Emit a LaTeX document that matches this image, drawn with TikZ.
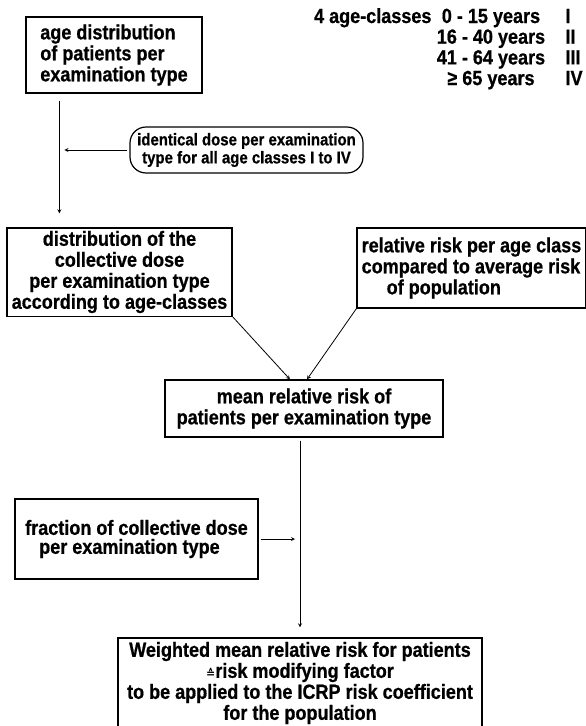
\documentclass[tikz,border=0pt]{standalone}
\usepackage{fontspec}
\setmainfont{Liberation Sans}
\newfontfamily\condsans{Liberation Sans}[FakeStretch=0.88,FakeBold=0.7]
\newfontfamily\symfont{DejaVu Sans}
\begin{document}
\begin{tikzpicture}[>=stealth,x=1pt,y=-1pt,
	box/.style={draw,line width=1.2pt,inner sep=3pt},
	txt/.style={font=\condsans\bfseries\fontsize{20.5}{21}\selectfont},
	small/.style={font=\condsans\bfseries\fontsize{17}{18}\selectfont},
	arr/.style={->,line width=0.8pt}]
\useasboundingbox (0,0) rectangle (586,726);
\node[txt,anchor=base east] (classes) at (435,23) {4 age-classes};
\foreach \range/\cls [count=\i] in {0 - 15 years/I,16 - 40 years/II,41 - 64 years/III,≥ 65 years/IV}{
	\node[txt,anchor=base] (range\i) at (491,{23+20.7*(\i-1)}) {\range};
	\node[txt,anchor=base west] (cls\i) at (562,{23+20.7*(\i-1)}) {\cls};
}
\node[box,txt,align=left,minimum width=176pt,minimum height=76pt] (agedist) at (114,55) {age distribution\\of patients per\\examination type};
\node[draw,line width=1.2pt,rounded corners=16pt,small,align=center,minimum width=233pt,minimum height=46pt] (samedose) at (246.5,150) {identical dose per examination\\type for all age classes I to IV};
\node[box,txt,align=center,minimum width=225pt,minimum height=86pt] (collect) at (119.5,272) {distribution of the\\collective dose\\per examination type\\according to age-classes};
\node[box,txt,align=left,minimum width=229pt,minimum height=80pt] (relrisk) at (471.5,268) {relative risk per age class\\compared to average risk\\\hspace*{25pt}of population};
\node[box,txt,align=center,minimum width=278pt,minimum height=57pt] (meanrisk) at (304,408.5) {mean relative risk of\\patients per examination type};
\node[box,txt,align=left,minimum width=243pt,minimum height=80pt] (fraction) at (136.5,539) {fraction of collective dose\\[-2pt]\hspace*{14pt}per examination type};
\node[box,txt,align=center,minimum width=364pt,minimum height=90pt] (weighted) at (300,683) {Weighted mean relative risk for patients\\{\symfont\fontsize{11}{11}\selectfont ≙}risk modifying factor\\to be applied to the ICRP risk coefficient\\for the population};
\coordinate (linetop) at ([xshift=34pt]agedist.south west);
\coordinate (linebot) at (linetop |- collect.north);
\draw[arr,shorten <=7pt,shorten >=14pt] (linetop) -- (linebot);
\draw[arr,shorten <=2pt,shorten >=5pt] (samedose.west) -- (samedose.west -| linetop);
\draw[arr] (collect.south east) -- ([xshift=-14pt]meanrisk.north);
\draw[arr] (relrisk.south west) -- ([xshift=3pt]meanrisk.north);
\draw[arr,shorten <=3pt,shorten >=10pt] (meanrisk.south -| weighted.north) -- (weighted.north);
\draw[arr,shorten <=2pt,shorten >=5pt] (fraction.east) -- (fraction.east -| weighted.north);
\end{tikzpicture}
\end{document}
